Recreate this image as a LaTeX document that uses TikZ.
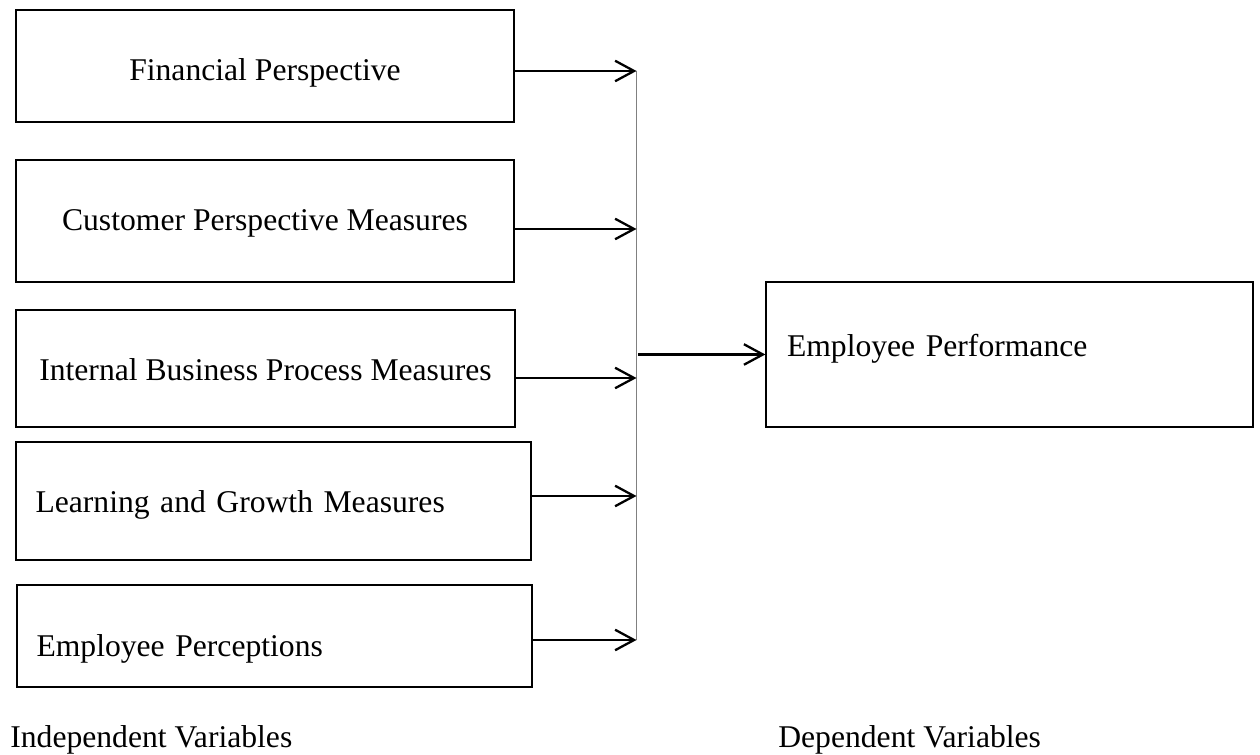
\documentclass[tikz,border=0pt]{standalone}
\usepackage{fontspec}
\setmainfont{Liberation Serif}
\usetikzlibrary{arrows.meta}

\tikzset{
	varbox/.style={draw, rectangle, line width=0.75pt, inner sep=0pt, align=center, text depth=0.14cm},
	leftbox/.style={varbox, align=left, inner xsep=0.39cm},
	feed/.style={line width=1.5pt, -{Straight Barb[length=0.38cm, width=0.41cm, line width=1.3pt]}},
	bus/.style={line width=0.45pt, black!50}
}

\begin{document}
\begin{tikzpicture}[font=\fontsize{18}{21.6}\selectfont]
		%%%%% START %%%%%
		\useasboundingbox (0, 0) rectangle (25.2, 15.1);
		
		\node[varbox, minimum width=9.96cm, minimum height=2.24cm, text height=0.74cm] (fin) at (5.30, 13.78) {Financial Perspective};
		\node[varbox, minimum width=9.96cm, minimum height=2.44cm, text height=0.54cm] (cust) at (5.30, 10.68) {Customer Perspective Measures};
		\node[varbox, minimum width=9.98cm, minimum height=2.34cm, text height=0.64cm] (intl) at (5.31, 7.73) {Internal Business Process Measures};
		\node[leftbox, text width=9.52cm, minimum height=2.36cm, text height=0.62cm] (lrn) at (5.47, 5.08) {Learning and Growth Measures};
		\node[leftbox, text width=9.52cm, minimum height=2.04cm, text height=0.98cm] (perc) at (5.49, 2.38) {Employee Perceptions};
		
		\node[leftbox, inner xsep=0.42cm, text width=8.90cm, minimum height=2.90cm, text height=0.24cm] (perf) at (20.19, 8.01) {Employee Performance};
		
		% collecting line
		\coordinate (b1) at (12.73, 13.68);
		\coordinate (b2) at (12.73, 10.52);
		\coordinate (b3) at (12.73, 7.54);
		\coordinate (b4) at (12.73, 5.18);
		\coordinate (b5) at (12.73, 2.30);
		\coordinate (bout) at (12.76, 8.01);
		\draw[bus] (b1) -- (b5);
		
		\draw[feed] (fin.east |- b1) -- (b1);
		\draw[feed] (cust.east |- b2) -- (b2);
		\draw[feed] (intl.east |- b3) -- (b3);
		\draw[feed] (lrn.east |- b4) -- (b4);
		\draw[feed] (perc.east |- b5) -- (b5);
		
		\draw[feed] (bout) -- (perf.west);
		
		\node[anchor=base west, inner sep=0pt] (indep) at (0.20, 0.14) {Independent Variables};
		\node[anchor=base west, inner sep=0pt] (dep) at (15.56, 0.14) {Dependent Variables};
		%%%%% END %%%%%
\end{tikzpicture}
\end{document}
